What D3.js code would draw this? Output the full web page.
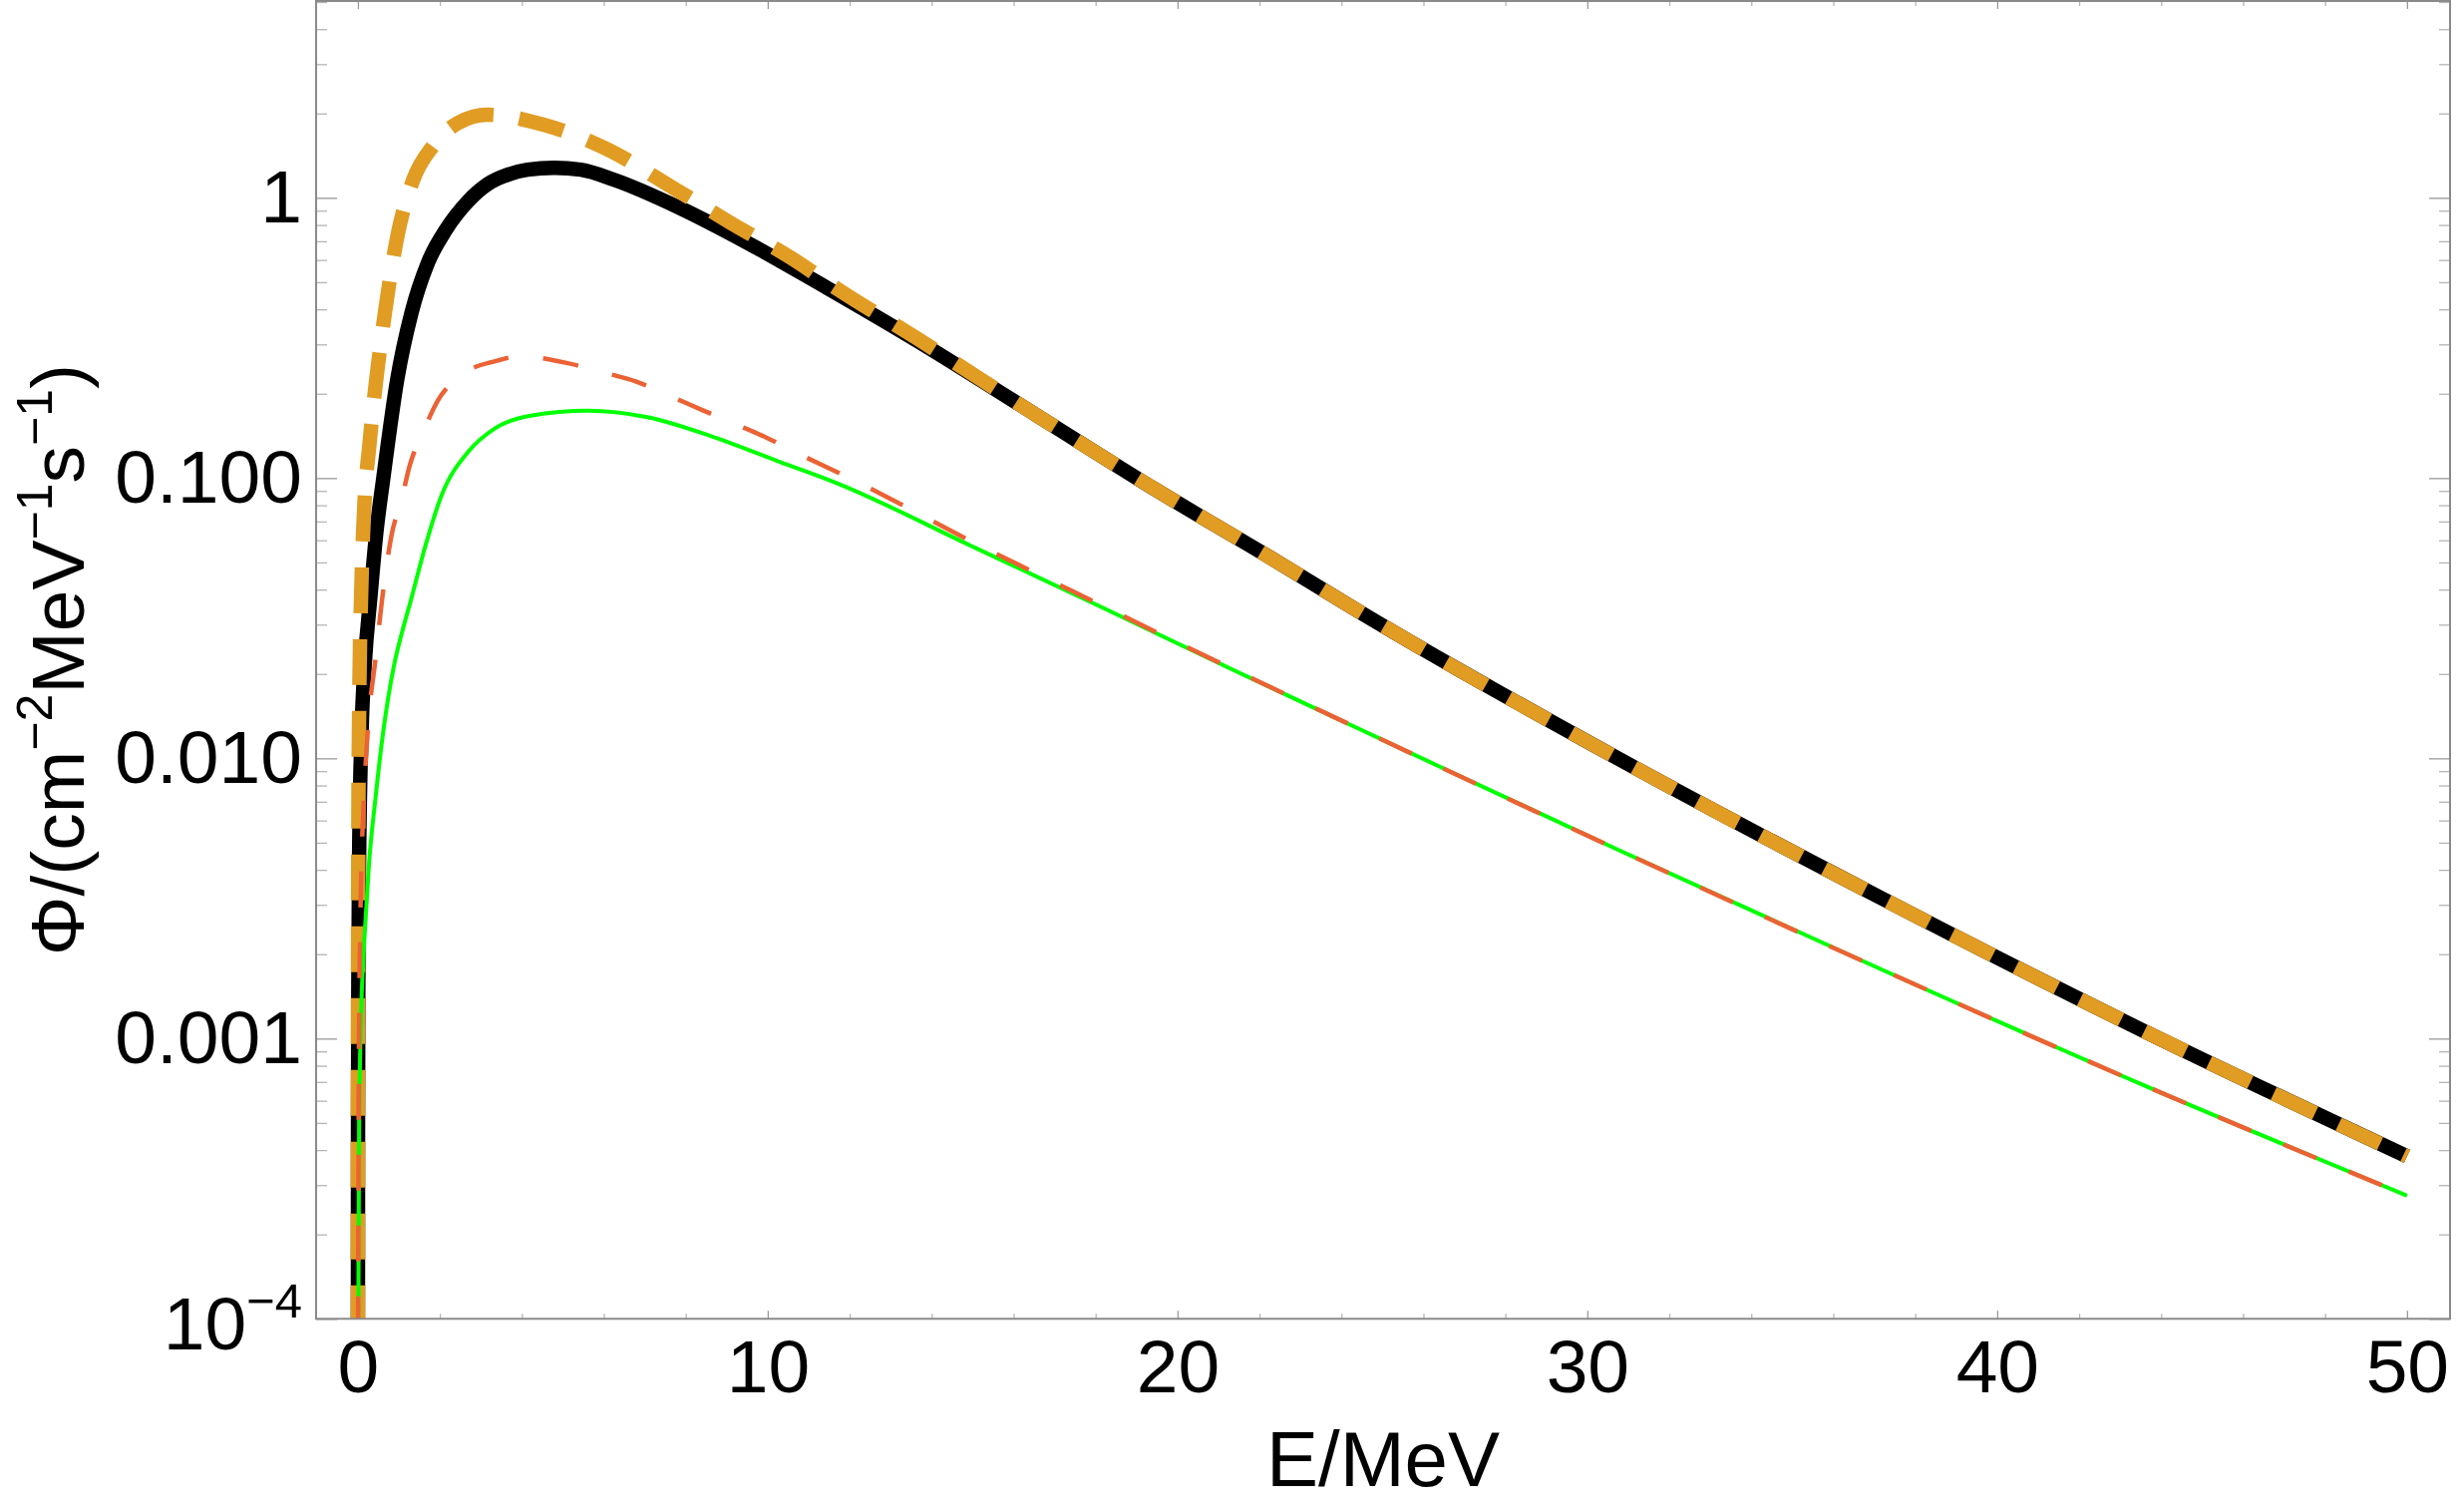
<!DOCTYPE html>
<html>
<head>
<meta charset="utf-8">
<script src="https://cdn.jsdelivr.net/npm/d3@7"></script>
<style>
  body { margin: 0; background: #fff; }
  svg { display: block; font-family: "Liberation Sans", Arial, Helvetica, sans-serif; }
</style>
</head>
<body>
<div id="chart"></div>
<script>
// values: E in MeV, flux in cm^-2 MeV^-1 s^-1
const blackE = [0.0005, 0.003, 0.01, 0.03, 0.09, 0.17, 0.3, 0.45, 0.62, 0.96, 1.31, 1.71, 2.15, 2.68, 3.17, 3.66, 4.14, 4.79, 5.44, 6.25, 7.85, 9.5, 11.44, 13.6, 16.55, 19.5, 22.5, 24.4, 30.8, 37.12, 43.49, 50];
const blackPhi = [0.00007, 0.00045, 0.0015, 0.0045, 0.0125, 0.022, 0.037, 0.064, 0.1, 0.225, 0.39, 0.587, 0.771, 0.97, 1.12, 1.21, 1.26, 1.28, 1.26, 1.16, 0.921, 0.692, 0.478, 0.312, 0.168, 0.0903, 0.0496, 0.0336, 0.00989, 0.0032, 0.00108, 0.00038];

const orangeE = [0.0001, 0.002, 0.01, 0.03, 0.09, 0.15, 0.28, 0.45, 0.66, 0.98, 1.35, 1.83, 2.44, 3.17, 4.55, 6.09, 7.67, 9.09, 10.63, 11.68, 13.6, 16.55, 19.5, 22.5, 24.4, 30.8, 37.12, 43.49, 50];
const orangePhi = [0.00005, 0.001, 0.005, 0.0145, 0.0438, 0.076, 0.131, 0.226, 0.39, 0.75, 1.16, 1.53, 1.85, 1.98, 1.82, 1.49, 1.09, 0.815, 0.603, 0.475, 0.318, 0.168, 0.0903, 0.0496, 0.0336, 0.00989, 0.0032, 0.00108, 0.00038];

const greenE = [0.003, 0.03, 0.05, 0.09, 0.17, 0.27, 0.43, 0.62, 0.885, 1.08, 1.3, 1.65, 2.04, 2.69, 3.33, 4.22, 5.61, 7.06, 8.69, 10.31, 11.68, 14.92, 18.17, 21.41, 24.4, 30.76, 37.12, 43.49, 50];
const greenPhi = [0.00005, 0.00051, 0.00081, 0.0014, 0.00242, 0.00418, 0.00723, 0.0125, 0.0216, 0.0283, 0.037, 0.0575, 0.0867, 0.124, 0.150, 0.167, 0.174, 0.165, 0.140, 0.114, 0.096, 0.0577, 0.0345, 0.0205, 0.0128, 0.00471, 0.00178, 0.00069, 0.000275];

const redE = [0.001, 0.02, 0.03, 0.05, 0.08, 0.14, 0.24, 0.43, 0.62, 0.82, 1.06, 1.265, 1.59, 1.95, 2.56, 3.37, 3.96, 5.12, 5.93, 6.79, 7.59, 8.4, 9.2, 9.99, 10.76, 12.0, 14.92, 18.17, 21.41, 24.4, 30.76, 37.12, 43.49, 50];
const redPhi = [0.00005, 0.00066, 0.00119, 0.00211, 0.00385, 0.00684, 0.0125, 0.0227, 0.04, 0.0625, 0.0832, 0.111, 0.146, 0.189, 0.235, 0.262, 0.272, 0.257, 0.2395, 0.221, 0.197, 0.175, 0.156, 0.139, 0.122, 0.100, 0.060, 0.0350, 0.0206, 0.0128, 0.00471, 0.00178, 0.00069, 0.000275];

const xTicks = [0, 10, 20, 30, 40, 50];
const xMinorTicks = [2, 4, 6, 8, 12, 14, 16, 18, 22, 24, 26, 28, 32, 34, 36, 38, 42, 44, 46, 48];
const yTicks = [1e-4, 1e-3, 1e-2, 0.1, 1];
const yTickLabels = ["10^\u22124", "0.001", "0.010", "0.100", "1"];

const width = 2471,
  height = 1513,
  plotLeft = 317,
  plotRight = 2457,
  plotTop = 1,
  plotBottom = 1322.3,
  fontSize = 75;

const x = d3.scaleLinear().domain([-1.02, 51.05]).range([plotLeft, plotRight]);
const y = d3.scaleLog().domain([1e-4, 5.04]).range([plotBottom, plotTop]);

const svg = d3.select("#chart")
  .append("svg")
  .attr("width", width)
  .attr("height", height);

svg.append("clipPath")
  .attr("id", "plot-area")
  .append("rect")
  .attr("x", plotLeft)
  .attr("y", plotTop)
  .attr("width", plotRight - plotLeft)
  .attr("height", plotBottom - plotTop);

// frame ticks point inward on all four sides
const yMinor = y.ticks().filter(d => !yTicks.some(t => Math.abs(t - d) / t < 1e-9));

function styleAxis(g, color) {
  g.select(".domain").remove();
  g.selectAll(".tick line").attr("stroke", color).attr("stroke-width", 1.3);
  g.attr("font-size", fontSize).attr("font-family", null);
  g.selectAll(".tick text").attr("fill", "#000");
}

svg.append("g")
  .attr("transform", `translate(0,${plotBottom})`)
  .call(d3.axisBottom(x).tickValues(xTicks).tickSize(-8).tickPadding(20).tickFormat(d3.format("d")))
  .call(g => styleAxis(g, "#999"));
svg.append("g")
  .attr("transform", `translate(0,${plotBottom})`)
  .call(d3.axisBottom(x).tickValues(xMinorTicks).tickSize(-5).tickFormat(""))
  .call(g => styleAxis(g, "#b5b5b5"));
svg.append("g")
  .attr("transform", `translate(0,${plotTop})`)
  .call(d3.axisTop(x).tickValues(xTicks).tickSize(-8).tickFormat(""))
  .call(g => styleAxis(g, "#999"));
svg.append("g")
  .attr("transform", `translate(0,${plotTop})`)
  .call(d3.axisTop(x).tickValues(xMinorTicks).tickSize(-5).tickFormat(""))
  .call(g => styleAxis(g, "#b5b5b5"));

svg.append("g")
  .attr("transform", `translate(${plotLeft},0)`)
  .call(d3.axisLeft(y).tickValues(yTicks).tickSize(-21).tickPadding(14).tickFormat((d, i) => yTickLabels[i]))
  .call(g => styleAxis(g, "#999"))
  .call(g => g.selectAll(".tick text").each(function () {
    // "10^-4" gets a real superscript
    const t = d3.select(this);
    const parts = t.text().split("^");
    if (parts.length < 2) return;
    t.text(parts[0]).attr("dy", "0.4em");
    t.append("tspan")
      .attr("font-size", 49)
      .attr("dy", -32)
      .text(parts[1]);
  }));
svg.append("g")
  .attr("transform", `translate(${plotLeft},0)`)
  .call(d3.axisLeft(y).tickValues(yMinor).tickSize(-11).tickFormat(""))
  .call(g => styleAxis(g, "#b5b5b5"));
svg.append("g")
  .attr("transform", `translate(${plotRight},0)`)
  .call(d3.axisRight(y).tickValues(yTicks).tickSize(-21).tickFormat(""))
  .call(g => styleAxis(g, "#999"));
svg.append("g")
  .attr("transform", `translate(${plotRight},0)`)
  .call(d3.axisRight(y).tickValues(yMinor).tickSize(-11).tickFormat(""))
  .call(g => styleAxis(g, "#b5b5b5"));

// curves, drawn bottom to top as in the original
const series = [
  { E: blackE, phi: blackPhi, color: "#000000", width: 14.5, dash: null },
  { E: orangeE, phi: orangePhi, color: "#E19C24", width: 14.5, dash: "46,26" },
  { E: greenE, phi: greenPhi, color: "#00FF00", width: 4, dash: null },
  { E: redE, phi: redPhi, color: "#EB6235", width: 4.5, dash: "36,35" }
];

const line = d3.line()
  .x(d => x(d[0]))
  .y(d => y(d[1]))
  .curve(d3.curveMonotoneX);

svg.append("g")
  .attr("clip-path", "url(#plot-area)")
  .attr("fill", "none")
  .selectAll("path")
  .data(series)
  .join("path")
  .attr("d", s => line(d3.zip(s.E, s.phi)))
  .attr("stroke", s => s.color)
  .attr("stroke-width", s => s.width)
  .attr("stroke-dasharray", s => s.dash)
  .attr("stroke-linejoin", "round");

// frame
svg.append("rect")
  .attr("x", plotLeft)
  .attr("y", plotTop)
  .attr("width", plotRight - plotLeft)
  .attr("height", plotBottom - plotTop)
  .attr("fill", "none")
  .attr("stroke", "#8a8a8a")
  .attr("stroke-width", 2);

svg.append("text")
  .attr("x", (plotLeft + plotRight) / 2)
  .attr("y", 1490)
  .attr("text-anchor", "middle")
  .attr("font-size", 78)
  .text("E/MeV");

// y label with superscripted exponents
const ylab = svg.append("text")
  .attr("transform", `translate(84,${(plotTop + plotBottom) / 2}) rotate(-90)`)
  .attr("text-anchor", "middle")
  .attr("font-size", fontSize);
[["\u03A6/(cm", 0], ["\u22122", 1], ["MeV", 0], ["\u22121", 1], ["s", 0], ["\u22121", 1], [")", 0]]
  .forEach(([txt, sup], i, arr) => {
    const prevSup = i > 0 ? arr[i - 1][1] : 0;
    ylab.append("tspan")
      .attr("dy", sup && !prevSup ? -32 : (!sup && prevSup ? 32 : 0))
      .attr("font-size", sup ? 50 : fontSize)
      .text(txt);
  });
</script>
</body>
</html>
